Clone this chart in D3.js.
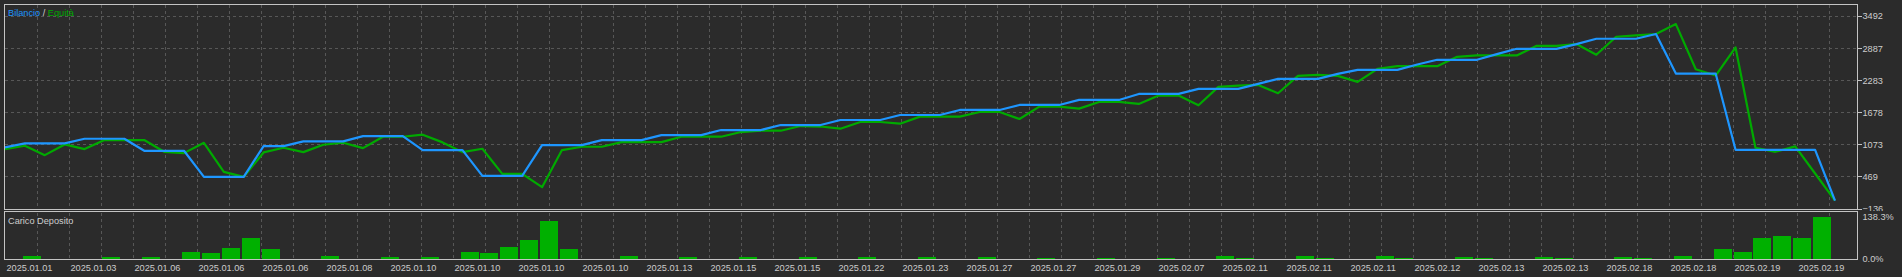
<!DOCTYPE html>
<html>
<head>
<meta charset="utf-8">
<script src="https://cdn.jsdelivr.net/npm/d3@7.9.0/dist/d3.min.js"></script>
<style>
  html, body { margin: 0; padding: 0; background: #2b2b2b; }
  svg { display: block; font-family: "Liberation Sans", Arial, sans-serif; font-size: 9.2px; }
</style>
</head>
<body>
<svg id="chart" width="1902" height="277"></svg>
<script>
// balance per trade (index 0 = start)
const balance = [
  1016, 1092, 1092, 1092, 1180, 1180, 1180, 953, 953, 953,
  462, 462, 462, 1042, 1042, 1130, 1130, 1130, 1230, 1230,
  1230, 966, 966, 966, 481, 481, 481, 1060, 1060, 1060,
  1155, 1155, 1155, 1249, 1249, 1249, 1344, 1344, 1344, 1438,
  1438, 1438, 1533, 1533, 1533, 1627, 1627, 1627, 1722, 1722,
  1722, 1816, 1816, 1816, 1911, 1911, 1911, 2024, 2024, 2024,
  2119, 2119, 2119, 2213, 2307, 2307, 2307, 2402, 2478, 2478,
  2478, 2578, 2667, 2667, 2667, 2774, 2874, 2874, 2874, 2963,
  3063, 3063, 3063, 3152, 2408, 2408, 2408, 972, 972, 972,
  972, 972, 15
];

const equity = [
  985, 1048, 871, 1073, 985, 1155, 1155, 1155, 934, 909,
  1104, 557, 462, 922, 1010, 928, 1067, 1104, 1004, 1218,
  1218, 1256, 1111, 928, 991, 519, 519, 267, 966, 1029,
  1029, 1117, 1117, 1117, 1218, 1218, 1218, 1306, 1331, 1331,
  1419, 1410, 1369, 1495, 1495, 1463, 1596, 1596, 1596, 1684,
  1684, 1552, 1785, 1785, 1747, 1873, 1873, 1835, 1993, 1993,
  1810, 2156, 2181, 2194, 2037, 2364, 2383, 2364, 2251, 2496,
  2547, 2547, 2547, 2723, 2749, 2749, 2749, 2931, 2931, 2963,
  2761, 3101, 3126, 3152, 3340, 2490, 2370, 2900, 1010, 934,
  1035, 525, 15
];

// deposit load %, same index as the trades
const depositLoad = [
  0, 10.9, 0, 0, 0, 7.6, 0, 7.6, 0, 24,
  20.7, 37, 69.7, 33.8, 0, 0, 10.9, 0, 0, 7.6,
  0, 7.6, 0, 24, 20.7, 40.3, 63.2, 123, 33.8, 0,
  0, 10.9, 0, 0, 7.6, 0, 0, 7.6, 0, 0,
  7.6, 0, 0, 7.6, 0, 0, 7.6, 0, 0, 7.6,
  0, 0, 4.4, 0, 0, 4.4, 0, 0, 4.4, 0,
  0, 10.9, 4.4, 0, 0, 10.9, 4.4, 0, 0, 10.9,
  4.4, 0, 0, 7.6, 4.4, 0, 0, 7.6, 4.4, 0,
  0, 7.6, 4.4, 0, 10.9, 0, 31.6, 24, 69.7, 76.3,
  69.7, 138.3, 0
];

const dateLabels = [
  '2025.01.01', '2025.01.03', '2025.01.06', '2025.01.06', '2025.01.06',
  '2025.01.08', '2025.01.10', '2025.01.10', '2025.01.10', '2025.01.10',
  '2025.01.13', '2025.01.15', '2025.01.15', '2025.01.22', '2025.01.23',
  '2025.01.27', '2025.01.27', '2025.01.29', '2025.02.07', '2025.02.11',
  '2025.02.11', '2025.02.11', '2025.02.12', '2025.02.13', '2025.02.13',
  '2025.02.18', '2025.02.18', '2025.02.19', '2025.02.19'
];

const balanceTicks = [-136, 469, 1073, 1678, 2283, 2887, 3492];
const loadTicks = [0, 138.3];

const bg = '#2b2b2b';
const borderColor = '#c4c4c4';
const gridColor = '#575757';
const textColor = '#cdcdcd';
const blue = '#1e96ff';
const green = '#00aa00';
const barGreen = '#00b000';

const svg = d3.select('#chart');

// panel frames
const left = 4, right = 1857;
const mainTop = 4, mainBottom = 209;
const subTop = 211.5, subBottom = 259.5;

const x = d3.scaleLinear().domain([0, balance.length - 1]).range([5, 1835]);
const y = d3.scaleLinear().domain([-136, 3492]).range([208.6, 16]);
const yLoad = d3.scaleLinear().domain([0, 138.3]).range([259, 216.7]);
const xGrid = d3.scaleLinear().domain([0, 57]).range([5, 1829]);
const xLabel = d3.scaleLinear().domain([0, dateLabels.length - 1]).range([5, 1797]);

svg.append('rect').attr('width', 1902).attr('height', 277).attr('fill', bg);

// vertical grid (both panels)
const vg = svg.append('g')
  .attr('stroke', gridColor)
  .attr('stroke-dasharray', '3,3')
  .attr('shape-rendering', 'crispEdges');
d3.range(1, 58).forEach(k => {
  const gx = Math.round(xGrid(k)) + 0.5;
  vg.append('line').attr('x1', gx).attr('x2', gx).attr('y1', mainTop + 1).attr('y2', mainBottom);
  vg.append('line').attr('x1', gx).attr('x2', gx).attr('y1', subTop + 1).attr('y2', subBottom);
});

// horizontal grid in main panel
svg.append('g')
  .attr('stroke', gridColor)
  .attr('stroke-dasharray', '3,3')
  .attr('shape-rendering', 'crispEdges')
  .selectAll('line')
  .data(balanceTicks.slice(1))
  .join('line')
  .attr('x1', left + 1)
  .attr('x2', right)
  .attr('y1', d => Math.round(y(d)) + 0.5)
  .attr('y2', d => Math.round(y(d)) + 0.5);

// deposit load bars
svg.append('g')
  .attr('fill', barGreen)
  .attr('shape-rendering', 'crispEdges')
  .selectAll('rect')
  .data(depositLoad.map((v, i) => ({ v, i })).filter(d => d.v > 0))
  .join('rect')
  .attr('x', d => x(d.i) - 2)
  .attr('width', 18)
  .attr('y', d => yLoad(d.v))
  .attr('height', d => yLoad(0) - yLoad(d.v));

// equity and balance lines
const line = d3.line().x((d, i) => x(i)).y(d => y(d));

svg.append('path')
  .datum(equity)
  .attr('d', line)
  .attr('fill', 'none')
  .attr('stroke', green)
  .attr('stroke-width', 2.2)
  .attr('stroke-linejoin', 'round');

svg.append('path')
  .datum(balance)
  .attr('d', line)
  .attr('fill', 'none')
  .attr('stroke', blue)
  .attr('stroke-width', 2.2)
  .attr('stroke-linejoin', 'round');

// frames
const frames = svg.append('g')
  .attr('fill', 'none')
  .attr('stroke', borderColor)
  .attr('shape-rendering', 'crispEdges');
frames.append('rect')
  .attr('x', left + 0.5).attr('y', mainTop + 0.5)
  .attr('width', right - left).attr('height', mainBottom - mainTop);
frames.append('rect')
  .attr('x', left + 0.5).attr('y', subTop)
  .attr('width', right - left).attr('height', subBottom - subTop);

// right value axis, clipped at the main panel bottom
svg.append('clipPath').attr('id', 'mainClip')
  .append('rect').attr('x', right).attr('y', 0).attr('width', 60).attr('height', 211);

const yAxis = svg.append('g')
  .attr('clip-path', 'url(#mainClip)')
  .append('g')
  .attr('transform', `translate(${right + 0.5},0)`)
  .call(d3.axisRight(y).tickValues(balanceTicks).tickSize(4).tickPadding(1).tickFormat(d3.format('d')));
yAxis.select('.domain').remove();
yAxis.selectAll('line').attr('stroke', borderColor).attr('shape-rendering', 'crispEdges');
yAxis.selectAll('text').attr('fill', textColor).attr('font-size', 9.2).attr('font-family', '"Liberation Sans", Arial, sans-serif');

const loadAxis = svg.append('g')
  .attr('transform', `translate(${right + 0.5},0)`)
  .call(d3.axisRight(yLoad).tickValues(loadTicks).tickSize(0).tickPadding(5).tickFormat(d => d.toFixed(1) + '%'));
loadAxis.select('.domain').remove();
loadAxis.selectAll('text').attr('fill', textColor).attr('font-size', 9.2).attr('font-family', '"Liberation Sans", Arial, sans-serif');

// date labels along the bottom
svg.append('g')
  .selectAll('text')
  .data(dateLabels)
  .join('text')
  .attr('x', (d, i) => xLabel(i) + 1.5)
  .attr('y', 271)
  .attr('fill', textColor)
  .text(d => d);

// panel titles
const legend = svg.append('text').attr('x', 8).attr('y', 16);
legend.append('tspan').attr('fill', blue).text('Bilancio');
legend.append('tspan').attr('fill', textColor).text(' / ');
legend.append('tspan').attr('fill', green).text('Equità');

svg.append('text').attr('x', 8).attr('y', 223.5).attr('fill', textColor).text('Carico Deposito');
</script>
</body>
</html>
